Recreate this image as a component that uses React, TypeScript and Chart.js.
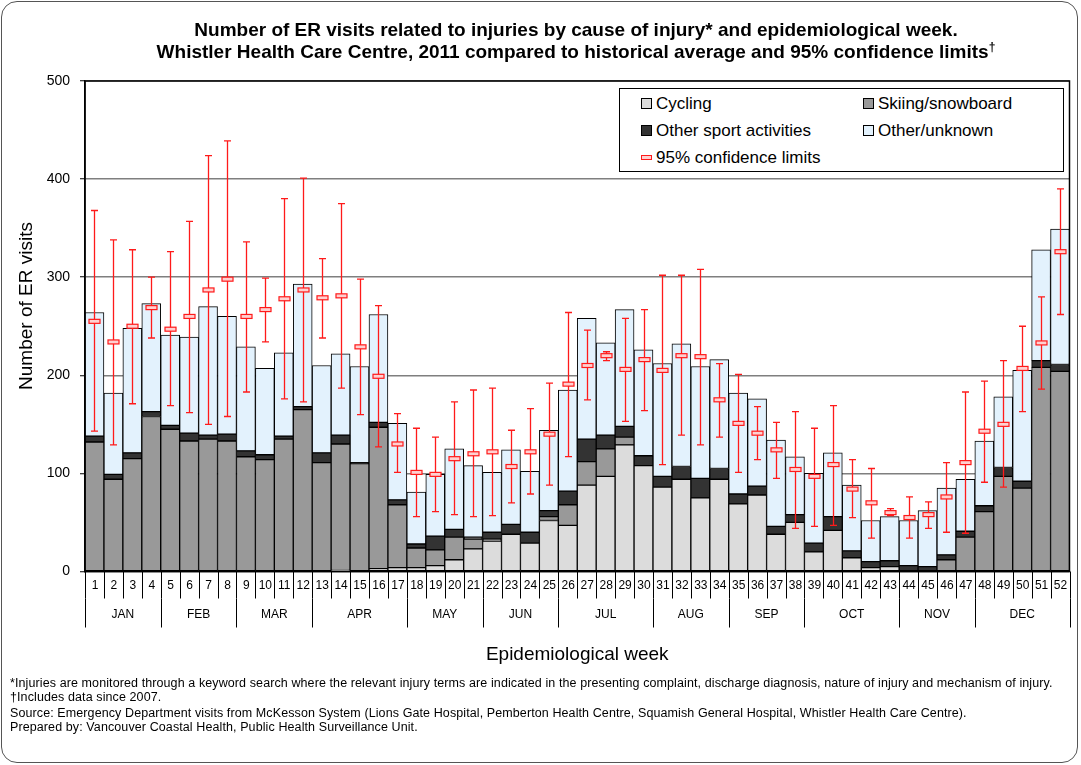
import React, { useEffect, useRef } from 'react';
import { Chart, registerables } from 'chart.js';

Chart.register(...registerables);

const weekLabels = ['1','2','3','4','5','6','7','8','9','10','11','12','13','14','15','16','17','18','19','20','21','22','23','24','25','26','27','28','29','30','31','32','33','34','35','36','37','38','39','40','41','42','43','44','45','46','47','48','49','50','51','52'];
const monthNames = ['JAN','FEB','MAR','APR','MAY','JUN','JUL','AUG','SEP','OCT','NOV','DEC'];
const monthWeekCounts = [4, 4, 4, 5, 4, 4, 5, 4, 4, 5, 4, 5];

const cycling = [0,0,0,0,0,0,0,0,0,0,0,0,0,1,0,3,4,4,6,12,23,31,38,29,52,47,88,97,129,108,86,94,75,94,69,78,38,50,20,42,14,4,5,0,0,0,0,0,0,0,0,0];
const skiing = [132,94,115,158,145,133,135,133,117,114,135,165,111,129,110,144,64,20,16,23,10,2,0,0,4,21,24,28,8,0,0,0,0,0,0,0,0,0,0,0,0,0,0,0,0,12,35,61,97,85,208,204];
const otherSport = [6,5,6,5,4,8,4,7,6,5,3,3,10,9,1,5,5,4,14,8,2,7,10,11,6,14,23,14,11,10,11,13,20,11,10,9,8,8,9,14,7,6,6,6,5,5,6,6,9,7,7,7];
const otherUnknown = [126,83,127,110,92,98,131,120,106,88,85,125,89,83,98,110,78,53,63,82,73,61,76,62,82,103,123,94,119,108,115,125,114,111,103,89,88,59,71,65,67,42,45,46,57,68,53,66,72,113,113,138];

const historicalMean = [255,234,250,269,247,260,287,298,260,267,278,287,279,281,229,199,130,101,99,115,120,122,107,122,140,191,210,220,206,216,205,220,219,175,151,141,124,104,97,109,84,70,60,55,58,76,111,143,150,207,233,326];
const upperLimit = [368,338,328,300,326,357,424,439,336,299,380,401,319,375,298,271,161,146,137,173,185,187,144,166,192,264,246,224,258,267,302,302,308,212,201,168,152,163,146,169,114,105,64,76,71,111,183,194,215,250,280,390];
const lowerLimit = [143,129,171,238,169,162,150,158,183,234,176,173,238,187,160,127,101,56,61,58,56,57,70,79,88,117,175,215,153,164,109,139,129,137,101,114,95,44,46,47,55,34,57,34,44,40,39,91,86,163,186,262];

const yMin = 0;
const yMax = 500;
const yStep = 100;

const FONT = 'Arial, "Liberation Sans", sans-serif';

const drawPlugin = {
  id: 'customDraw',
  afterDatasetsDraw(chart: any) {
    const ctx = chart.ctx;
    const xs = chart.scales.x;
    const ys = chart.scales.y;
    const area = chart.chartArea;
    ctx.save();
    for (let i = 0; i < weekLabels.length; i++) {
      const x = Math.round(xs.getPixelForValue(i)) + 0.5;
      const yU = ys.getPixelForValue(upperLimit[i]);
      const yL = ys.getPixelForValue(lowerLimit[i]);
      const yM = ys.getPixelForValue(historicalMean[i]);
      ctx.strokeStyle = '#ff1a1a';
      ctx.lineWidth = 1.3;
      ctx.beginPath();
      ctx.moveTo(x, yU);
      ctx.lineTo(x, yL);
      ctx.moveTo(x - 3.5, yU);
      ctx.lineTo(x + 3.5, yU);
      ctx.moveTo(x - 3.5, yL);
      ctx.lineTo(x + 3.5, yL);
      ctx.stroke();
      ctx.fillStyle = '#ffd0d0';
      ctx.fillRect(x - 5.5, yM - 2, 11, 4);
      ctx.strokeStyle = '#ff1a1a';
      ctx.lineWidth = 1.2;
      ctx.strokeRect(x - 5.5, yM - 2, 11, 4);
    }
    ctx.strokeStyle = '#000';
    ctx.lineWidth = 1.5;
    ctx.strokeRect(area.left, area.top, area.right - area.left, area.bottom - area.top);
    ctx.restore();
  },
  afterDraw(chart: any) {
    const ctx = chart.ctx;
    const xs = chart.scales.x;
    const ys = chart.scales.y;
    const area = chart.chartArea;
    const w = xs.getPixelForValue(1) - xs.getPixelForValue(0);
    const edge = (i: number) => xs.getPixelForValue(0) - w / 2 + i * w;
    const y0 = ys.getPixelForValue(0);
    ctx.save();
    ctx.strokeStyle = '#000';
    ctx.lineWidth = 1;
    ctx.fillStyle = '#000';
    ctx.textAlign = 'center';
    ctx.textBaseline = 'middle';
    ctx.font = '12px ' + FONT;
    for (let i = 0; i <= weekLabels.length; i++) {
      const x = Math.round(edge(i)) + 0.5;
      ctx.beginPath();
      ctx.moveTo(x, y0);
      ctx.lineTo(x, y0 + 27);
      ctx.stroke();
    }
    for (let i = 0; i < weekLabels.length; i++) {
      ctx.fillText(weekLabels[i], xs.getPixelForValue(i) + 0.5, y0 + 14);
    }
    let start = 0;
    for (let m = 0; m <= monthNames.length; m++) {
      const x = Math.round(edge(start)) + 0.5;
      ctx.beginPath();
      ctx.moveTo(x, y0 + 27);
      ctx.lineTo(x, y0 + 56);
      ctx.stroke();
      if (m < monthNames.length) {
        const end = start + monthWeekCounts[m];
        ctx.fillText(monthNames[m], (edge(start) + edge(end)) / 2, y0 + 43);
        start = end;
      }
    }
    ctx.font = '19px ' + FONT;
    ctx.fillText('Epidemiological week', (area.left + area.right) / 2, 655);
    ctx.translate(27, 306);
    ctx.rotate(-Math.PI / 2);
    ctx.fillText('Number of ER visits', 0, 0);
    ctx.restore();
  },
};

export default function App() {
  const ref = useRef<HTMLCanvasElement>(null);
  useEffect(() => {
    const canvas = ref.current;
    if (!canvas) return;
    const border = '#000000';
    const chart = new Chart(canvas, {
      type: 'bar',
      data: {
        labels: weekLabels,
        datasets: [
          { label: 'Cycling', data: cycling, backgroundColor: '#dcdcdc', borderColor: border, borderWidth: 1, borderSkipped: false },
          { label: 'Skiing/snowboard', data: skiing, backgroundColor: '#999999', borderColor: border, borderWidth: 1, borderSkipped: false },
          { label: 'Other sport activities', data: otherSport, backgroundColor: '#333333', borderColor: border, borderWidth: 1, borderSkipped: false },
          { label: 'Other/unknown', data: otherUnknown, backgroundColor: '#e3f2fd', borderColor: border, borderWidth: 1, borderSkipped: false },
        ],
      },
      options: {
        responsive: false,
        animation: false,
        events: [],
        layout: { padding: { left: 0, right: 11.5, top: 81, bottom: 193.5 } },
        datasets: { bar: { categoryPercentage: 1, barPercentage: 1 } },
        plugins: { legend: { display: false }, tooltip: { enabled: false }, title: { display: false } },
        scales: {
          x: { stacked: true, display: false, offset: true },
          y: {
            stacked: true,
            min: yMin,
            max: yMax,
            ticks: { stepSize: yStep, color: '#000', font: { size: 14, family: FONT }, padding: 10 },
            grid: { color: '#7f7f7f', lineWidth: 1.5, tickLength: 5, tickColor: '#000', tickWidth: 1 },
            border: { display: true, color: '#000', width: 1.5 },
            afterFit: (s: any) => { s.width = 85; },
          },
        },
      },
      plugins: [drawPlugin],
    } as any);
    return () => chart.destroy();
  }, []);

  const sq = (bg: string) => ({
    display: 'inline-block', width: 9, height: 9, background: bg, border: '1px solid #000', marginRight: 4, verticalAlign: 'middle', position: 'relative' as const, top: -1,
  });
  const legendItem = (left: number, top: number, bg: string | null, text: string) => (
    <div style={{ position: 'absolute', left, top, fontSize: 17, lineHeight: '20px', whiteSpace: 'nowrap' }}>
      {bg ? <span style={sq(bg)} /> : (
        <span style={{ display: 'inline-block', width: 9, height: 3, background: '#ffd0d0', border: '1px solid #ff1a1a', marginRight: 4, verticalAlign: 'middle', position: 'relative', top: -1 }} />
      )}
      {text}
    </div>
  );
  const note = (top: number, text: React.ReactNode) => (
    <div style={{ position: 'absolute', left: 10, top, fontSize: 12.5, lineHeight: '14px', whiteSpace: 'nowrap', letterSpacing: '0.1px' }}>{text}</div>
  );

  return (
    <div style={{ position: 'absolute', left: 0, top: 0, width: 1081, height: 765, background: '#fff', fontFamily: FONT, color: '#000', overflow: 'hidden' }}>
      <div style={{ position: 'absolute', left: 1, top: 1, width: 1075, height: 760, border: '1px solid #555', borderRadius: 16 }} />
      <canvas ref={ref} width={1081} height={765} style={{ position: 'absolute', left: 0, top: 0 }} />
      <div style={{ position: 'absolute', left: 76, top: 19, width: 1000, textAlign: 'center', fontWeight: 'bold', fontSize: 19, lineHeight: '22px' }}>
        <div>Number of ER visits related to injuries by cause of injury* and epidemiological week.</div>
        <div>Whistler Health Care Centre, 2011 compared to historical average and 95% confidence limits<sup style={{ fontSize: 12, lineHeight: 0 }}>†</sup></div>
      </div>
      <div style={{ position: 'absolute', left: 619, top: 88, width: 443, height: 82, border: '1px solid #000', background: '#fff' }} />
      {legendItem(641, 94, '#dcdcdc', 'Cycling')}
      {legendItem(863, 94, '#999999', 'Skiing/snowboard')}
      {legendItem(641, 121, '#333333', 'Other sport activities')}
      {legendItem(863, 121, '#e3f2fd', 'Other/unknown')}
      {legendItem(641, 148, null, '95% confidence limits')}
      {note(676, '*Injuries are monitored through a keyword search where the relevant injury terms are indicated in the presenting complaint, discharge diagnosis, nature of injury and mechanism of injury.')}
      {note(690, '†Includes data since 2007.')}
      {note(706, 'Source: Emergency Department visits from McKesson System (Lions Gate Hospital, Pemberton Health Centre, Squamish General Hospital, Whistler Health Care Centre).')}
      {note(720, 'Prepared by: Vancouver Coastal Health, Public Health Surveillance Unit.')}
    </div>
  );
}
